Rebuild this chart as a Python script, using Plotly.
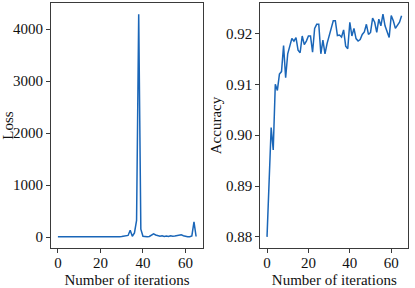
import plotly.graph_objects as go

iterations = list(range(66))

loss = [5, 4, 3, 3, 3, 3, 3, 3, 3, 3,
        3, 3, 3, 3, 3, 3, 3, 3, 4, 3,
        3, 3, 3, 3, 3, 3, 3, 4, 4, 5,
        8, 15, 20, 30, 130, 15, 80, 320, 4290, 150,
        15, 5, 5, 10, 40, 60, 40, 20, 15, 25,
        10, 20, 10, 25, 15, 20, 25, 30, 45, 25,
        10, 5, 5, 20, 290, 10]

accuracy = [0.8800, 0.8905, 0.9015, 0.8971, 0.9100, 0.9088, 0.9120, 0.9125, 0.9176, 0.9113,
            0.9160, 0.9175, 0.9190, 0.9185, 0.9192, 0.9167, 0.9162, 0.9195, 0.9178, 0.9185,
            0.9195, 0.9195, 0.9163, 0.9210, 0.9218, 0.9218, 0.9160, 0.9187, 0.9160, 0.9180,
            0.9195, 0.9205, 0.9225, 0.9225, 0.9196, 0.9197, 0.9193, 0.9207, 0.9175, 0.9170,
            0.9222, 0.9195, 0.9210, 0.9190, 0.9185, 0.9188, 0.9198, 0.9203, 0.9218, 0.9198,
            0.9202, 0.9230, 0.9222, 0.9202, 0.9228, 0.9215, 0.9238, 0.9215, 0.9205, 0.9192,
            0.9235, 0.9225, 0.9210, 0.9215, 0.9222, 0.9235]

x_ticks = [0, 20, 40, 60]
loss_ticks = [0, 1000, 2000, 3000, 4000]
acc_ticks = [0.88, 0.89, 0.90, 0.91, 0.92]
acc_tick_text = ["0.88", "0.89", "0.90", "0.91", "0.92"]

line_color = "#1a66b8"
frame_color = "#3a3a3a"
font_family = "Liberation Serif, Times New Roman, serif"

fig = go.Figure()
fig.add_trace(go.Scatter(x=iterations, y=loss, mode="lines",
                         line=dict(color=line_color, width=1.5),
                         xaxis="x", yaxis="y", showlegend=False))
fig.add_trace(go.Scatter(x=iterations, y=accuracy, mode="lines",
                         line=dict(color=line_color, width=1.5),
                         xaxis="x2", yaxis="y2", showlegend=False))

axis_common = dict(showline=True, linecolor=frame_color, linewidth=1, mirror=True,
                   ticks="outside", ticklen=4, tickcolor=frame_color, tickwidth=1,
                   showgrid=False, zeroline=False,
                   tickfont=dict(family=font_family, size=15, color="#111"),
                   title_font=dict(family=font_family, size=15, color="#111"))

lo = min(iterations); hi = max(iterations); pad = (hi - lo) * 0.05
lmin, lmax = min(loss), max(loss); lpad = (lmax - lmin) * 0.05
amin, amax = min(accuracy), max(accuracy); apad = (amax - amin) * 0.05

fig.update_layout(
    width=415, height=288,
    margin=dict(l=0, r=0, t=0, b=0),
    paper_bgcolor="white", plot_bgcolor="white",
    xaxis=dict(domain=[0.1229, 0.4892], range=[lo - pad, hi + pad], tickvals=x_ticks,
               ticklabelstandoff=-3,
               title=dict(text="Number of iterations", standoff=4), anchor="y", **axis_common),
    yaxis=dict(domain=[0.1389, 0.9896], range=[lmin - lpad, lmax + lpad], tickvals=loss_ticks,
               title=dict(text="Loss", standoff=2), anchor="x", **axis_common),
    xaxis2=dict(domain=[0.6272, 0.9839], range=[lo - pad, hi + pad], tickvals=x_ticks,
                ticklabelstandoff=-3,
                title=dict(text="Number of iterations", standoff=4), anchor="y2", **axis_common),
    yaxis2=dict(domain=[0.1389, 0.9896], range=[amin - apad, amax + apad], tickvals=acc_ticks,
                ticktext=acc_tick_text,
                title=dict(text="Accuracy", standoff=0), anchor="x2", **axis_common),
)

fig.write_html("out.html", config={"displayModeBar": False},
               post_script="document.body.style.margin='0';document.body.style.overflow='hidden';")
